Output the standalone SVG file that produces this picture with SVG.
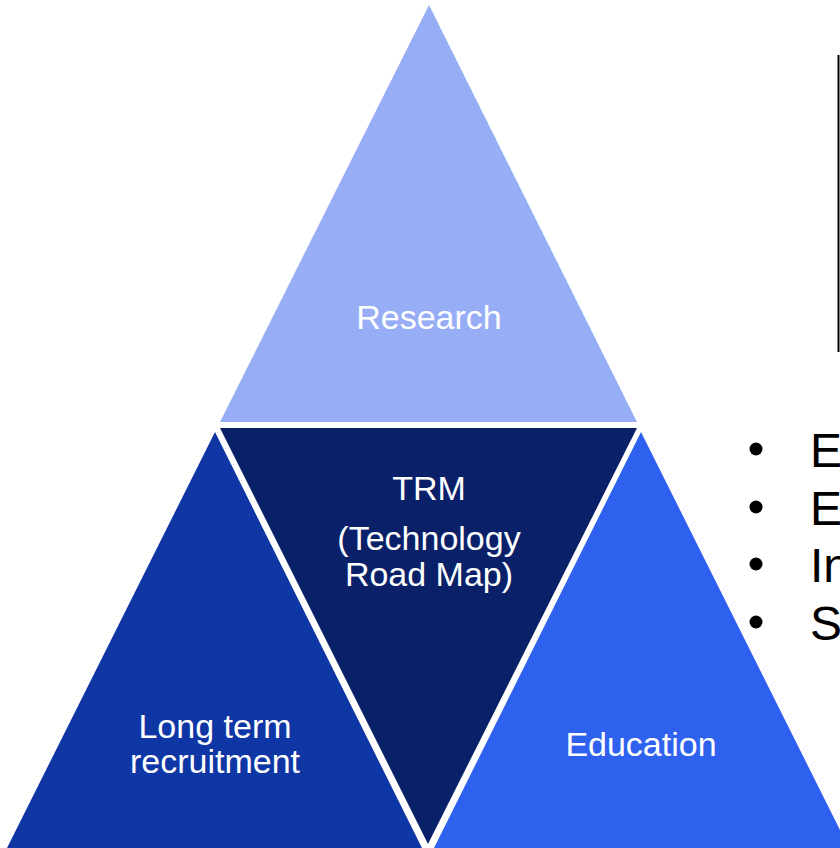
<svg xmlns="http://www.w3.org/2000/svg" width="840" height="848" viewBox="0 0 840 848">
<style>
.lbl{font-family:"Liberation Sans",Arial,sans-serif;font-size:34px;fill:#ffffff;text-anchor:middle}
.bul{font-family:"Liberation Sans",Arial,sans-serif;font-size:48px;fill:#000000}
</style>
<rect width="840" height="848" fill="#ffffff"/>
<g id="research">
<polygon points="429,5 220,422 637,422" fill="#97ADF6"/>
<text class="lbl" x="429" y="329">Research</text>
</g>
<g id="trm">
<polygon points="220,428 637,428 428,844" fill="#0A2169"/>
<text class="lbl" x="429" y="500">TRM</text>
<text class="lbl" x="429" y="550">(Technology</text>
<text class="lbl" x="429" y="586">Road Map)</text>
</g>
<g id="long-term">
<polygon points="215,432 6,850 423,850" fill="#0F36A5"/>
<text class="lbl" x="215" y="738">Long term</text>
<text class="lbl" x="215" y="773">recruitment</text>
</g>
<g id="education">
<polygon points="641,432 433,850 850,850" fill="#2F61EF"/>
<text class="lbl" x="641" y="756">Education</text>
</g>
<g id="connectors"></g>
<g id="list">
<line x1="838.5" y1="55" x2="838.5" y2="352" stroke="#000" stroke-width="2"/>
<circle cx="756" cy="449" r="6.5"/>
<circle cx="756" cy="507" r="6.5"/>
<circle cx="756" cy="564" r="6.5"/>
<circle cx="756" cy="622" r="6.5"/>
<text class="bul" x="810" y="467">E</text>
<text class="bul" x="810" y="525">E</text>
<text class="bul" x="810" y="582">In</text>
<text class="bul" x="810" y="640">S</text>
</g>
</svg>
